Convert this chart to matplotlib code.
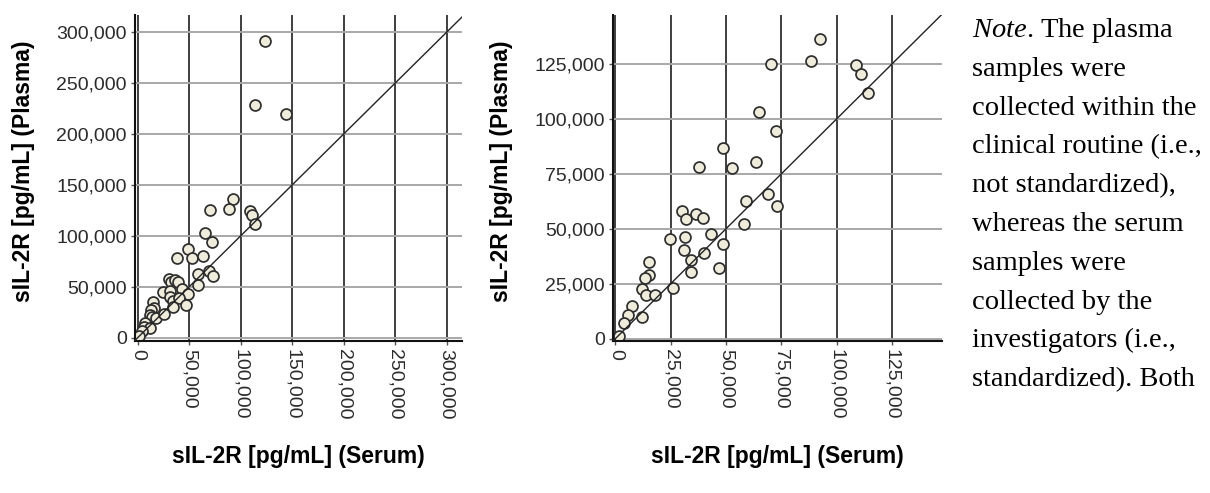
import matplotlib
matplotlib.use('Agg')
import matplotlib.pyplot as plt
from matplotlib.ticker import FuncFormatter

# sIL-2R per subject, serum vs plasma (pg/mL)
serum = [92400, 88600, 70100, 108800, 110800, 114200, 65100, 72500, 48500,
         37700, 52800, 63400, 69000, 58800, 73100, 58300, 30200, 32100,
         36600, 39500, 43300, 48500, 24500, 31600, 31200, 34000, 40100,
         34000, 47000, 15200, 15400, 13200, 12200, 13900, 17800, 25900,
         7400, 5700, 12200, 3800, 1700, 123600, 113900, 143700]
plasma = [136300, 126500, 125000, 124600, 120300, 111800, 103300, 94400,
          86900, 78200, 77800, 80500, 65800, 62800, 60300, 52100, 58100,
          54300, 56600, 55000, 47500, 43000, 45200, 46100, 40300, 35700,
          38800, 30400, 32000, 35000, 28900, 27400, 22400, 19800, 19700,
          23100, 14800, 10700, 9900, 6900, 1300, 291400, 228500, 219300]

full_ticks = [0, 50000, 100000, 150000, 200000, 250000, 300000]
zoom_ticks = [0, 25000, 50000, 75000, 100000, 125000]

note_lines = ['$\\it{Note}$. The plasma', 'samples were',
              'collected within the', 'clinical routine (i.e.,',
              'not standardized),', 'whereas the serum', 'samples were',
              'collected by the', 'investigators (i.e.,',
              'standardized). Both']

plt.rcParams['font.family'] = ['Liberation Sans', 'DejaVu Sans']
plt.rcParams['mathtext.fontset'] = 'custom'
plt.rcParams['mathtext.rm'] = 'Liberation Serif'
plt.rcParams['mathtext.it'] = 'Liberation Serif:italic'

fig = plt.figure(figsize=(12.1, 4.93), dpi=100)
ax1 = fig.add_axes([0.1116, 0.3083, 0.2702, 0.6613])
ax2 = fig.add_axes([0.5066, 0.3083, 0.2717, 0.6613])

comma = FuncFormatter(lambda v, p: f'{v:,.0f}')


def scatter_panel(ax, ticks, xlim, ylim):
    ax.set_axisbelow(True)
    ax.scatter(serum, plasma, s=62, facecolor='#efecdc', edgecolor='#2e2e2e',
               linewidth=1.25, zorder=2)
    ax.axline((0, 0), slope=1, color='#222222', lw=1.0, zorder=3)
    ax.set_xlim(*xlim)
    ax.set_ylim(*ylim)
    ax.set_xticks(ticks)
    ax.set_yticks(ticks)
    ax.xaxis.set_major_formatter(comma)
    ax.yaxis.set_major_formatter(comma)
    ax.xaxis.grid(True, color='#1f1f1f', lw=1.2)
    ax.yaxis.grid(True, color='#a8a8a8', lw=1.4)
    for side in ['top', 'right']:
        ax.spines[side].set_visible(False)
    for side in ['left', 'bottom']:
        ax.spines[side].set_linewidth(1.5)
        ax.spines[side].set_color('#111111')
    ax.tick_params(length=3, width=1, pad=3, labelsize=14,
                   labelcolor='#2b2b2b', color='#555555')
    ax.tick_params(axis='x', labelrotation=-90)
    ax.set_xlabel('sIL-2R [pg/mL] (Serum)', fontsize=16.5,
                  fontweight='bold')
    ax.set_ylabel('sIL-2R [pg/mL] (Plasma)', fontsize=16.5,
                  fontweight='bold')
    ax.xaxis.set_label_coords(0.5, -0.318)
    ax.yaxis.set_label_coords(-0.305, 0.52)


scatter_panel(ax1, full_ticks, (-2600, 315000), (-3300, 317000))
scatter_panel(ax2, zoom_ticks, (-1100, 147500), (-1100, 147300))

# note text beside the panels
for i, line in enumerate(note_lines):
    fig.text(972 / 1210, 1 - (37 + i * 38.8) / 493, line,
             family='Liberation Serif', fontsize=20.5, va='baseline',
             ha='left', color='black')

fig.savefig('out.png', dpi=100, facecolor='white')
